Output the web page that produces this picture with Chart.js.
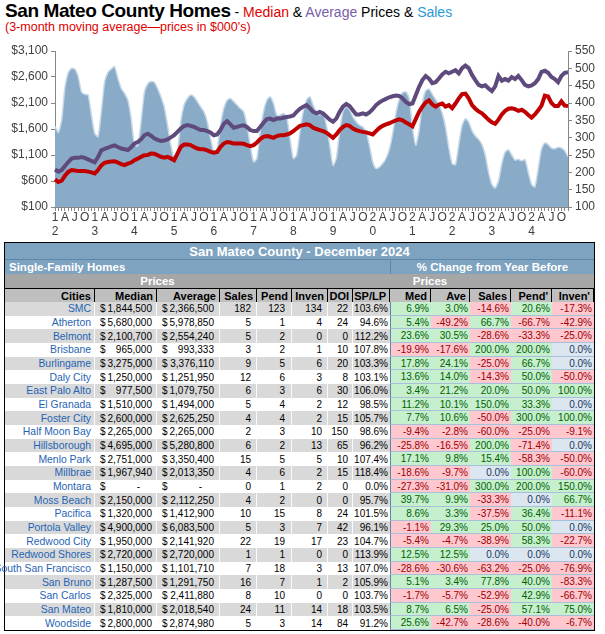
<!DOCTYPE html>
<html>
<head>
<meta charset="utf-8">
<script src="https://cdn.jsdelivr.net/npm/chart.js@4.4.1/dist/chart.umd.min.js"></script>
<style>
  body { margin: 0; width: 605px; height: 634px; overflow: hidden; background: #fff; font-family: Arial, "Liberation Sans", sans-serif; position: relative; }
  #head { position: absolute; left: 5px; top: 0px; white-space: nowrap; }
  #head .big { font-size: 19px; font-weight: bold; color: #000; letter-spacing: -0.4px; }
  #head .sm { font-size: 14px; color: #000; }
  #sub { position: absolute; left: 5px; top: 20px; font-size: 12.5px; color: #e00000; white-space: nowrap; }
  #chartBox { position: absolute; left: 0; top: 40px; width: 605px; height: 201px; }
  #tbl { position: absolute; left: 4px; top: 242px; border: 1px solid #000; display: grid;
         grid-template-columns: 90px 62px 63px 37px 35px 36px 25px 37px 41px 39px 41px 41px 42px;
         grid-template-rows: 17px 14px 14px 14px repeat(24, 13.68px); }
  .c { display: flex; align-items: center; white-space: nowrap; box-sizing: border-box; font-size: 10px; color: #000; }
  .title { background: #7ea3c1; color: #fff; font-weight: bold; font-size: 13px; justify-content: center; border-bottom: 1px solid #5f86a6; }
  .sfh { background: #7ea3c1; color: #fff; font-weight: bold; font-size: 11.5px; }
  .pr { background: #a6a6a6; color: #fff; font-weight: bold; font-size: 11.5px; justify-content: center; }
  .hd { background: #bfbfbf; font-weight: bold; font-size: 11px; justify-content: flex-end; padding-right: 3px; border-top: 1px solid #000; border-right: 1px solid #000; }
  .divl { border-left: 1px solid #5f86a6; }
  .r { justify-content: flex-end; }
  .city { color: #1f64b4; justify-content: flex-end; padding-right: 3px; font-size: 10.4px; }
  .money { justify-content: space-between; padding-left: 5px; }
  .pct { justify-content: flex-end; padding-right: 2px; border-bottom: 1px solid #a9c0da; }
  .up { background: #c6efce; color: #006100; }
  .dn { background: #ffc7ce; color: #9c0006; }
  .zr { background: #dce6f1; color: #17375e; }
  .g { background: #d9d9d9; }
  .w { background: #fff; }
  .sep { border-right: 1px solid rgba(255,255,255,0.85); }
</style>
</head>
<body>
<div id="head"><span class="big">San Mateo County Homes</span><span class="sm"> - <span style="color:#e00000">Median</span> &amp; <span style="color:#7a5ea6">Average</span> Prices &amp; <span style="color:#2a9ad8">Sales</span></span></div>
<div id="sub">(3-month moving average—prices in $000's)</div>
<div id="chartBox"><canvas id="chart"></canvas></div>
<div id="tbl"></div>
<script>
// chart series, monthly Jan 2012 - Dec 2024 (3-month moving averages)
var yearTop    = ['1','1','1','1','1','1','1','1','2','2','2','2','2'];
var yearBottom = ['2','3','4','5','6','7','8','9','0','1','2','3','4'];
var quarterLetters = ['A','J','O'];   // Apr, Jul, Oct

var medianPrice = [
  630, 580, 605, 700, 775, 810, 800, 790, 790, 790, 780, 765,
  745, 810, 900, 950, 965, 975, 980, 955, 925, 905, 935, 955,
  1000, 1030, 1065, 1095, 1100, 1130, 1125, 1095, 1065, 1050, 1065, 1035,
  1000, 1125, 1255, 1300, 1300, 1290, 1255, 1225, 1210, 1210, 1190, 1160,
  1145, 1160, 1255, 1320, 1350, 1340, 1320, 1320, 1320, 1315, 1290, 1270,
  1290, 1340, 1405, 1450, 1465, 1450, 1430, 1465, 1480, 1480, 1495, 1515,
  1560, 1610, 1660, 1675, 1690, 1675, 1625, 1600, 1580, 1560, 1530, 1480,
  1430, 1495, 1580, 1640, 1675, 1660, 1610, 1580, 1560, 1545, 1535, 1515,
  1495, 1560, 1620, 1660, 1690, 1710, 1740, 1765, 1785, 1765, 1725, 1690,
  1650, 1790, 1930, 2030, 2110, 2150, 2070, 2030, 2070, 2090, 2030, 2060,
  2000, 2090, 2190, 2270, 2280, 2190, 2060, 1990, 1940, 1900, 1840, 1780,
  1730, 1700, 1780, 1880, 1950, 1990, 2000, 1980, 1950, 1970, 1930, 1870,
  1820, 1880, 1960, 2050, 2240, 2225, 2100, 2040, 2040, 2130, 2050, 2040
];
var averagePrice = [
  820, 780, 810, 890, 965, 1030, 1045, 1045, 1060, 1045, 1015, 985,
  960, 1060, 1190, 1220, 1240, 1265, 1285, 1255, 1225, 1210, 1195, 1250,
  1320, 1350, 1400, 1480, 1510, 1470, 1420, 1390, 1370, 1380, 1400, 1440,
  1480, 1545, 1610, 1655, 1675, 1660, 1640, 1610, 1580, 1580, 1560, 1535,
  1480, 1495, 1580, 1700, 1750, 1690, 1625, 1640, 1660, 1670, 1640, 1580,
  1560, 1560, 1640, 1720, 1790, 1800, 1770, 1800, 1800, 1815, 1830, 1840,
  1860, 1930, 1990, 2030, 2060, 2000, 1930, 1900, 1930, 1900, 1840, 1780,
  1740, 1800, 1930, 2030, 2080, 2040, 1960, 1880, 1880, 1900, 1880, 1920,
  1980, 2060, 2110, 2150, 2180, 2210, 2230, 2245, 2235, 2190, 2120, 2080,
  2090, 2250, 2410, 2540, 2620, 2570, 2480, 2500, 2570, 2650, 2700, 2670,
  2700, 2730, 2670, 2770, 2820, 2770, 2640, 2540, 2450, 2420, 2440, 2380,
  2330, 2420, 2620, 2530, 2560, 2530, 2600, 2560, 2620, 2540, 2450, 2420,
  2440, 2480, 2560, 2700, 2720, 2680, 2600, 2560, 2500, 2620, 2680, 2690
];
var salesCount = [
  332, 315, 350, 445, 488, 500, 498, 476, 432, 425, 423, 365,
  312, 303, 375, 462, 488, 498, 505, 471, 442, 428, 409, 356,
  280, 276, 346, 430, 455, 462, 460, 442, 418, 389, 336, 278,
  240, 259, 346, 394, 413, 423, 418, 404, 389, 375, 346, 298,
  259, 269, 336, 384, 408, 413, 404, 394, 384, 375, 336, 278,
  230, 240, 317, 375, 408, 418, 399, 365, 365, 370, 360, 298,
  240, 249, 317, 375, 408, 418, 394, 375, 365, 370, 336, 278,
  220, 240, 317, 375, 389, 380, 360, 346, 336, 331, 317, 278,
  230, 211, 215, 225, 240, 265, 310, 370, 410, 430, 432, 415,
  330, 278, 320, 400, 435, 440, 425, 410, 395, 370, 330, 270,
  225, 222, 280, 335, 355, 345, 320, 305, 295, 280, 250, 200,
  165, 155, 175, 225, 258, 265, 250, 235, 238, 233, 237, 200,
  165, 158, 210, 268, 285, 280, 270, 268, 272, 270, 262, 245
];

// table, December 2024
var cities = ['SMC','Atherton','Belmont','Brisbane','Burlingame','Daly City','East Palo Alto','El Granada','Foster City','Half Moon Bay','Hillsborough','Menlo Park','Millbrae','Montara','Moss Beach','Pacifica','Portola Valley','Redwood City','Redwood Shores','South San Francisco','San Bruno','San Carlos','San Mateo','Woodside'];
var medians  = [1844500,5680000,2100700,965000,3275000,1250000,977500,1510000,2600000,2265000,4695000,2751000,1967940,0,2150000,1320000,4900000,1950000,2720000,1150000,1287500,2325000,1810000,2800000];
var averages = [2366500,5978850,2554240,993333,3376110,1251950,1079750,1494000,2625250,2265000,5280800,3350400,2013350,0,2112250,1412900,6083500,2141920,2720000,1101710,1291750,2411880,2018540,2874980];
var sales    = [182,5,5,3,9,12,6,5,4,2,6,15,4,0,4,10,5,22,1,7,16,8,24,5];
var pend     = [123,1,2,2,5,6,3,4,4,3,2,5,6,1,2,15,3,19,1,18,7,10,11,3];
var inven    = [134,4,0,1,6,3,6,2,2,10,13,5,2,2,0,8,7,17,0,3,1,0,14,14];
var doi      = [22,24,0,10,20,8,30,12,15,150,65,10,15,0,0,24,42,23,0,13,2,0,18,84];
var spLp     = [103.6,94.6,112.2,107.8,103.3,103.1,106.0,98.5,105.7,98.6,96.2,107.4,118.4,0.0,95.7,101.5,96.1,104.7,113.9,107.0,105.9,103.7,103.5,91.2];
var chgMed   = [6.9,5.4,23.6,-19.9,17.8,13.6,3.4,11.2,7.7,-9.4,-25.8,17.1,-18.6,-27.3,39.7,8.6,-1.1,-5.4,12.5,-28.6,5.1,-1.7,8.7,25.6];
var chgAve   = [3.0,-49.2,30.5,-17.6,24.1,14.0,21.2,10.1,10.6,-2.8,-16.5,9.8,-9.7,-31.0,9.9,3.3,29.3,-4.7,12.5,-30.6,3.4,-5.7,6.5,-42.7];
var chgSales = [-14.6,66.7,-28.6,200.0,-25.0,-14.3,20.0,150.0,-50.0,-60.0,200.0,15.4,0.0,300.0,-33.3,-37.5,25.0,-38.9,0.0,-63.2,77.8,-52.9,-25.0,-28.6];
var chgPend  = [20.6,-66.7,-33.3,200.0,66.7,50.0,50.0,33.3,300.0,-25.0,-71.4,-58.3,100.0,200.0,0.0,36.4,50.0,58.3,0.0,-25.0,40.0,42.9,57.1,-40.0];
var chgInven = [-17.3,-42.9,-25.0,0.0,0.0,-50.0,100.0,0.0,100.0,-9.1,0.0,-50.0,-60.0,150.0,66.7,-11.1,0.0,-22.7,0.0,-76.9,-83.3,-66.7,75.0,-6.7];

// build x labels
var monthKeys = [];
var tickText = [];
yearBottom.forEach(function(yb, yi){
  for (var m = 0; m < 12; m++) {
    monthKeys.push(yi + '-' + m);
    if (m === 0) tickText.push([yearTop[yi], yb]);
    else if (m % 3 === 0) tickText.push(quarterLetters[m / 3 - 1]);
    else tickText.push('');
  }
});

var tickFont = { family: 'Arial, "Liberation Sans", sans-serif', size: 12 };
var axisGray = '#868686';

new Chart(document.getElementById('chart'), {
  type: 'line',
  data: {
    labels: monthKeys,
    datasets: [
      { label: 'Sales', data: salesCount, yAxisID: 'y2', fill: 'start', backgroundColor: '#89abc8',
        borderColor: '#c7d9e8', borderWidth: 1.5, pointRadius: 0, tension: 0.2, order: 3 },
      { label: 'Average', data: averagePrice, yAxisID: 'y', fill: false, borderColor: '#5e4a7c',
        borderWidth: 4, pointRadius: 0, tension: 0, order: 2 },
      { label: 'Median', data: medianPrice, yAxisID: 'y', fill: false, borderColor: '#c00000',
        borderWidth: 4, pointRadius: 0, tension: 0, order: 1 }
    ]
  },
  options: {
    responsive: true,
    maintainAspectRatio: false,
    animation: false,
    layout: { padding: { top: 11, left: 0, right: 0, bottom: 0 } },
    plugins: { legend: { display: false }, tooltip: { enabled: false } },
    scales: {
      x: {
        offset: false,
        grid: { drawOnChartArea: false, tickLength: 4, color: axisGray },
        border: { color: axisGray },
        ticks: { autoSkip: false, maxRotation: 0, minRotation: 0, padding: 0, color: '#404040',
                 font: { family: tickFont.family, size: 12, lineHeight: 1.15 },
                 callback: function(v, i){ return tickText[i]; } },
        afterFit: function(s){ s.height = 34; }
      },
      y: {
        position: 'left', min: 100, max: 3100,
        grid: { drawOnChartArea: false, tickLength: 4, color: axisGray },
        border: { color: axisGray },
        ticks: { stepSize: 500, autoSkip: false, padding: 3, color: '#404040', font: tickFont,
                 callback: function(v){ return '$' + v.toLocaleString('en-US'); } },
        afterFit: function(s){ s.width = 55; }
      },
      y2: {
        position: 'right', min: 100, max: 550,
        grid: { drawOnChartArea: false, tickLength: 4, color: axisGray },
        border: { color: axisGray },
        ticks: { stepSize: 50, autoSkip: false, padding: 3, color: '#404040', font: tickFont },
        afterFit: function(s){ s.width = 37; }
      }
    }
  }
});

// table
var tbl = document.getElementById('tbl');
function cell(html, cls, span) {
  var d = document.createElement('div');
  d.className = 'c ' + cls;
  if (span) d.style.gridColumn = 'span ' + span;
  d.innerHTML = html;
  tbl.appendChild(d);
  return d;
}
function money(v) {
  if (!v) return '<span>$</span><span style="padding-right:12px">-</span>';
  return '<span>$</span><span>' + v.toLocaleString('en-US') + '</span>';
}
function pctCell(v, extra) {
  var cls = v > 0 ? 'up' : (v < 0 ? 'dn' : 'zr');
  cell(v.toFixed(1) + '%', 'pct ' + cls + (extra || ''));
}

cell('San Mateo County - December 2024', 'title', 13);
cell('<span style="padding-left:4px">Single-Family Homes</span>', 'sfh', 8);
cell('% Change from Year Before', 'sfh divl', 5).style.justifyContent = 'center';
cell('', 'pr', 1); cell('Prices', 'pr', 2); cell('', 'pr', 5);
cell('Prices', 'pr', 2); cell('', 'pr', 3);
['Cities','Median','Average','Sales','Pend','Inven','DOI','SP/LP','Med','Ave','Sales',"Pend'","Inven'"].forEach(function(h){ cell(h, 'hd'); });

cities.forEach(function(name, i){
  var bg = i % 2 === 0 ? ' g' : ' w';
  cell('<span>' + name + '</span>', 'city sep' + bg);
  cell(money(medians[i]), 'money sep' + bg).style.paddingRight = '4px';
  cell(money(averages[i]), 'money sep' + bg).style.paddingRight = '5px';
  cell(sales[i], 'r sep' + bg).style.paddingRight = '5px';
  cell(pend[i], 'r sep' + bg).style.paddingRight = '6px';
  cell(inven[i], 'r sep' + bg).style.paddingRight = '5px';
  cell(doi[i], 'r sep' + bg).style.paddingRight = '4px';
  cell(spLp[i].toFixed(1) + '%', 'r' + bg).style.paddingRight = '2px';
  pctCell(chgMed[i], ' divl');
  pctCell(chgAve[i]);
  pctCell(chgSales[i]);
  pctCell(chgPend[i]);
  pctCell(chgInven[i]);
});
</script>
</body>
</html>
